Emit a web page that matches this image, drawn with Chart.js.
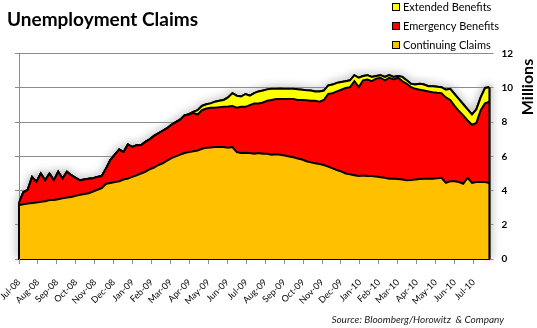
<!DOCTYPE html>
<html>
<head>
<meta charset="utf-8">
<script src="https://cdn.jsdelivr.net/npm/chart.js@4.4.1/dist/chart.umd.min.js"></script>
<style>
  html, body { margin: 0; padding: 0; background: #fff; }
  #wrap { width: 537px; height: 328px; }
</style>
</head>
<body>
<div id="wrap"><canvas id="claims" width="537" height="328"></canvas></div>
<script>
// month ticks on the x axis
const monthLabels = [
  "Jul-08", "Aug-08", "Sep-08", "Oct-08", "Nov-08", "Dec-08",
  "Jan-09", "Feb-09", "Mar-09", "Apr-09", "May-09", "Jun-09",
  "Jul-09", "Aug-09", "Sep-09", "Oct-09", "Nov-09", "Dec-09",
  "Jan-10", "Feb-10", "Mar-10", "Apr-10", "May-10", "Jun-10", "Jul-10",
];

const yTicks = [0, 2, 4, 6, 8, 10, 12];

// weekly values in millions
const continuing = [
  3.16, 3.2, 3.25, 3.28, 3.3, 3.35, 3.38, 3.45, 3.45, 3.5,
  3.55, 3.6, 3.62, 3.7, 3.75, 3.8, 3.85, 3.95, 4.05, 4.15,
  4.4, 4.45, 4.5, 4.55, 4.65, 4.7, 4.8, 4.9, 5.0, 5.1,
  5.25, 5.35, 5.5, 5.6, 5.75, 5.9, 6.0, 6.1, 6.2, 6.25,
  6.3, 6.35, 6.45, 6.5, 6.52, 6.55, 6.55, 6.55, 6.5, 6.55,
  6.25, 6.2, 6.22, 6.2, 6.15, 6.2, 6.15, 6.15, 6.1, 6.12,
  6.1, 6.05, 6.0, 5.95, 5.88, 5.82, 5.72, 5.65, 5.6, 5.55,
  5.5, 5.4, 5.3, 5.2, 5.12, 5.0, 4.95, 4.9, 4.85, 4.88,
  4.85, 4.85, 4.82, 4.78, 4.75, 4.7, 4.7, 4.68, 4.65, 4.6,
  4.62, 4.65, 4.68, 4.7, 4.7, 4.7, 4.72, 4.75, 4.45, 4.55,
  4.55, 4.5, 4.4, 4.75, 4.45, 4.5, 4.5, 4.5, 4.45,
];

const emergency = [
  0.14, 0.7, 0.8, 1.52, 1.2, 1.65, 1.22, 1.55, 1.15, 1.6,
  1.15, 1.5, 1.28, 1.05, 0.85, 0.85, 0.85, 0.77, 0.75, 0.7,
  0.9, 1.35, 1.6, 1.85, 1.6, 2.0, 1.75, 1.75, 1.65, 1.75,
  1.75, 1.85, 1.85, 1.9, 1.9, 1.95, 2.0, 2.05, 2.2, 2.2,
  2.25, 2.1, 2.25, 2.3, 2.33, 2.3, 2.33, 2.35, 2.42, 2.4,
  2.6, 2.7, 2.68, 2.8, 2.95, 2.9, 3.0, 3.1, 3.2, 3.23,
  3.25, 3.3, 3.35, 3.4, 3.42, 3.48, 3.56, 3.6, 3.65, 3.65,
  3.8, 4.25, 4.4, 4.6, 4.78, 5.0, 5.1, 5.5, 5.2, 5.57,
  5.65, 5.55, 5.73, 5.82, 5.7, 5.9, 5.8, 5.92, 5.75, 5.65,
  5.43, 5.3, 5.22, 5.15, 5.1, 5.05, 5.0, 4.95, 5.0, 4.75,
  4.4, 4.15, 4.0, 3.35, 3.4, 3.45, 4.2, 4.6, 4.75,
];

const extended = [
  0, 0, 0, 0, 0, 0, 0, 0, 0, 0,
  0, 0, 0, 0, 0, 0, 0, 0, 0, 0,
  0, 0, 0, 0, 0, 0, 0, 0, 0, 0,
  0, 0, 0, 0, 0, 0, 0, 0, 0, 0.02,
  0.05, 0.25, 0.25, 0.25, 0.25, 0.35, 0.37, 0.4, 0.53, 0.75,
  0.7, 0.6, 0.75, 0.55, 0.6, 0.7, 0.7, 0.67, 0.65, 0.6,
  0.62, 0.6, 0.6, 0.6, 0.62, 0.6, 0.59, 0.6, 0.55, 0.6,
  0.55, 0.5, 0.5, 0.5, 0.45, 0.4, 0.4, 0.35, 0.55, 0.25,
  0.25, 0.25, 0.15, 0.15, 0.2, 0.15, 0.15, 0.1, 0.25, 0.2,
  0.2, 0.25, 0.35, 0.35, 0.3, 0.35, 0.36, 0.35, 0.45, 0.65,
  0.7, 0.7, 0.65, 0.65, 0.6, 0.8, 0.75, 0.9, 0.85,
];

// weeks measured in months from the start of Jul-08
const weekPos = continuing.map((v, i) => (i * 7) / 30.44);

function toPoints(values) {
  return values.map((v, i) => ({ x: weekPos[i], y: v }));
}

const font = "Lato, 'Liberation Sans', sans-serif";
const gridGray = "#8c8c8c";

// black edges at both ends plus the soft shadow round the outside
const outline = {
  id: "outline",
  afterDatasetsDraw(chart) {
    const ctx = chart.ctx;
    const top = chart.getDatasetMeta(2);
    const pts = top.data;
    const base = chart.scales.y.getPixelForValue(0);
    const first = pts[0];
    const last = pts[pts.length - 1];
    ctx.save();
    ctx.strokeStyle = "#000";
    ctx.lineWidth = 2;
    ctx.beginPath();
    ctx.moveTo(first.x, base);
    ctx.lineTo(first.x, first.y);
    ctx.moveTo(last.x, base);
    ctx.lineTo(last.x, last.y);
    ctx.stroke();
    ctx.globalCompositeOperation = "destination-over";
    ctx.shadowColor = "rgba(0,0,0,0.75)";
    ctx.shadowBlur = 8;
    ctx.stroke();
    top.dataset.draw(ctx, chart.chartArea);
    ctx.restore();
  },
};

// legend (stacked, top series first), axis title and source line
const extras = {
  id: "extras",
  afterDraw(chart) {
    const ctx = chart.ctx;
    ctx.save();
    ctx.font = "11px " + font;
    ctx.textBaseline = "middle";
    const sets = chart.data.datasets.slice().reverse();
    sets.forEach((ds, i) => {
      const y = 7 + i * 19;
      ctx.fillStyle = ds.backgroundColor;
      ctx.fillRect(393, y - 3, 6, 6);
      ctx.strokeStyle = "#000";
      ctx.lineWidth = 1;
      ctx.strokeRect(392.5, y - 3.5, 7, 7);
      ctx.fillStyle = "#000";
      ctx.fillText(ds.label, 403, y);
    });

    ctx.font = "italic 10px " + font;
    ctx.fillStyle = "#222";
    ctx.textAlign = "right";
    ctx.fillText("Source: Bloomberg/Horowitz  & Company", 504, 320);

    ctx.translate(528, 87);
    ctx.rotate(-Math.PI / 2);
    ctx.font = "bold 16px " + font;
    ctx.textAlign = "center";
    ctx.fillStyle = "#000";
    ctx.fillText("Millions", 0, 0);
    ctx.restore();
  },
};

new Chart(document.getElementById("claims"), {
  type: "line",
  data: {
    datasets: [
      {
        label: "Continuing Claims",
        data: toPoints(continuing),
        backgroundColor: "#FFC000",
        fill: "origin",
      },
      {
        label: "Emergency Benefits",
        data: toPoints(emergency),
        backgroundColor: "#FF0000",
        fill: "-1",
      },
      {
        label: "Extended Benefits",
        data: toPoints(extended),
        backgroundColor: "#FFFF00",
        fill: "-1",
      },
    ],
  },
  options: {
    responsive: false,
    animation: false,
    devicePixelRatio: 1,
    layout: { padding: { left: 7, right: 16, top: 0, bottom: 19 } },
    elements: {
      point: { radius: 0 },
      line: { borderColor: "#000", borderWidth: 2, tension: 0 },
    },
    plugins: {
      legend: { display: false },
      tooltip: { enabled: false },
      title: {
        display: true,
        text: "Unemployment Claims",
        align: "start",
        color: "#000",
        font: { family: font, size: 19, weight: "bold" },
        padding: { top: 8, bottom: 23 },
      },
    },
    scales: {
      x: {
        type: "linear",
        min: 0,
        max: weekPos[weekPos.length - 1],
        afterBuildTicks: (scale) => {
          scale.ticks = scale.ticks.filter(
            (t) => Number.isInteger(t.value) && t.value < monthLabels.length
          );
        },
        afterFit: (scale) => {
          scale.height = 50;
          // rotated labels may hang past the left edge, like the original
          scale.paddingLeft = 0;
          scale.paddingRight = 0;
        },
        ticks: {
          stepSize: 1,
          autoSkip: false,
          minRotation: 45,
          maxRotation: 45,
          padding: 13,
          color: "#000",
          font: { family: font, size: 9 },
          callback: (v) => monthLabels[v],
        },
        grid: {
          drawOnChartArea: false,
          color: gridGray,
          tickLength: 5,
        },
        border: { color: "#000", width: 2 },
      },
      y: {
        position: "right",
        stacked: true,
        min: yTicks[0],
        max: yTicks[yTicks.length - 1],
        ticks: {
          stepSize: 2,
          padding: 8,
          color: "#000",
          font: { family: font, size: 10, weight: "bold" },
        },
        grid: { color: gridGray, tickLength: 4 },
        border: { display: false },
      },
      yLeft: {
        position: "left",
        min: yTicks[0],
        max: yTicks[yTicks.length - 1],
        afterFit: (scale) => {
          scale.width = 12;
        },
        ticks: { stepSize: 2, display: false },
        grid: { drawOnChartArea: false, color: gridGray, tickLength: 4 },
        border: { color: gridGray },
      },
    },
  },
  plugins: [outline, extras],
});
</script>
</body>
</html>
